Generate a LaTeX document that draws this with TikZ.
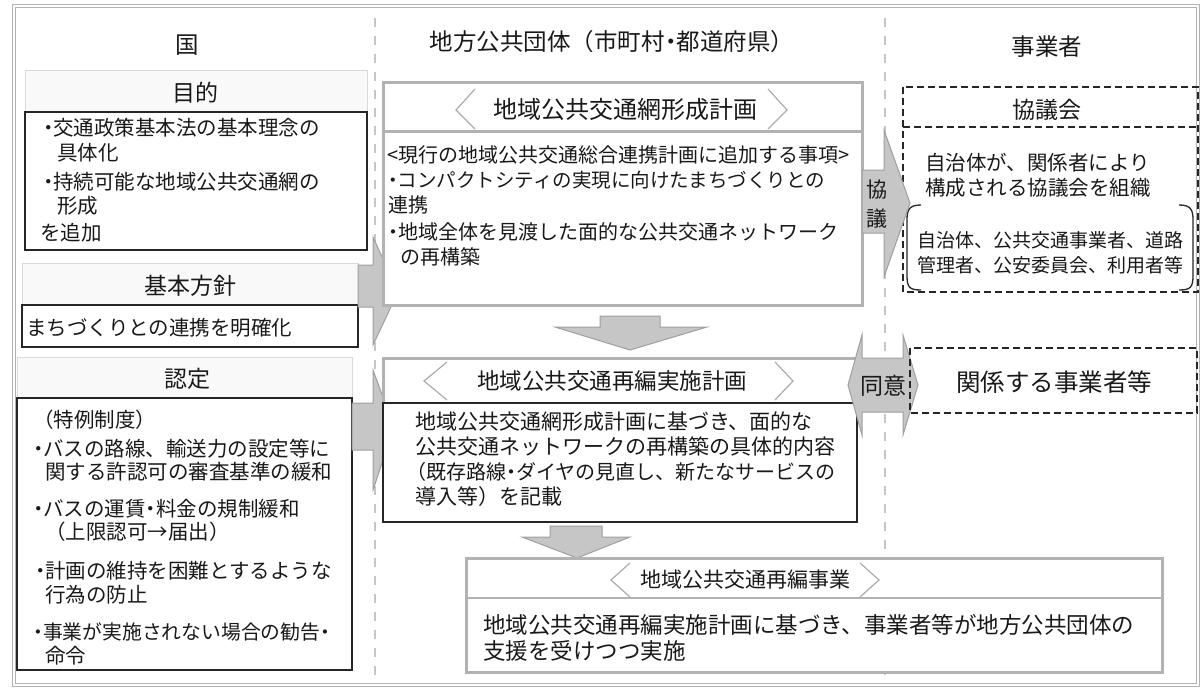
\documentclass[tikz,border=0pt]{standalone}
\usepackage{fontspec}
\setmainfont{Noto Sans CJK JP}
\newfontfamily\pp{Noto Sans CJK JP}[RawFeature=+palt]
\newcommand{\nd}{{\pp ・}}
\newcommand{\fb}{\fontsize{20.5}{25}\selectfont}
\newcommand{\fh}{\fontsize{23}{27}\selectfont}
\newcommand{\ft}{\fontsize{23.5}{28}\selectfont}
\begin{document}
\begin{tikzpicture}[x=1pt,y=-1pt,
  body/.style={anchor=west, inner sep=0pt, font=\fb, text=black!90},
  ttl/.style={inner sep=0pt, font=\ft, text=black!90},
  lbl/.style={inner sep=0pt, font=\fh, text=black!90},
  blk/.style={fill=gray!45, draw=gray!75, line width=1pt},
  gframe/.style={draw=gray!60, line width=3pt, fill=white},
  hdr/.style={fill=gray!5, draw=gray!30, line width=0.6pt},
  cbox/.style={draw=black!85, line width=1.3pt, fill=white},
  dbox/.style={draw=black!85, dash pattern=on 7pt off 4pt, line width=1.6pt},
  chev/.style={draw=gray!65, line width=1.2pt},
  sepline/.style={draw=gray!45, line width=2.5pt, dash pattern=on 9pt off 9pt}]
\useasboundingbox (0,0) rectangle (1203,693);
\fill[white] (0,0) rectangle (1203,693);
% outer frame
\draw[gray!60, line width=1.2pt, double=white, double distance=1.5pt] (14,6) rectangle (1198,685);
% column separators
\draw[sepline] (375,18) -- (375,680);
\draw[sepline] (885,18) -- (885,680);
% column titles
\node[ttl] (kuni) at (187,45) {国};
\node[ttl] (chiho) at (612,42) {地方公共団体（市町村{\pp ・}都道府県）};
\node[ttl] (jigyosha) at (1047,47) {事業者};

% ---------- left column ----------
\path[hdr] (25,70) rectangle (367,112);
\node[lbl] (mokuteki) at (195,93) {目的};
\path[cbox] (25,112) rectangle (367,250);
\node[body] (m1) at (43,128) {\nd 交通政策基本法の基本理念の};
\node[body] (m2) at (57,153) {具体化};
\node[body] (m3) at (43,182) {\nd 持続可能な地域公共交通網の};
\node[body] (m4) at (57,206) {形成};
\node[body] (m5) at (40,233) {を追加};

\path[hdr] (22,263) rectangle (358,305);
\node[lbl] (kihon) at (190,286) {基本方針};
\path[cbox] (22,305) rectangle (358,347);
\node[body] (k1) at (26,328) {まちづくりとの連携を明確化};

\path[hdr] (17,357) rectangle (352,398);
\node[lbl] (nintei) at (187,379) {認定};
\path[cbox] (17,398) rectangle (352,670);
\node[body] (n1) at (33,420) {（特例制度）};
\node[body] (n2) at (33,449) {\nd バスの路線、輸送力の設定等に};
\node[body] (n3) at (45,472) {関する許認可の審査基準の緩和};
\node[body] (n4) at (33,509) {\nd バスの運賃{\pp ・}料金の規制緩和};
\node[body] (n5) at (45,532) {（上限認可→届出）};
\node[body] (n6) at (35,571) {\nd 計画の維持を困難とするような};
\node[body] (n7) at (45,595) {行為の防止};
\node[body, font=\fontsize{19.8}{24}\selectfont] (n8) at (33,632) {\nd 事業が実施されない場合の勧告\nd};
\node[body] (n9) at (45,656) {命令};

% arrows from left column
\draw[blk] (358,265) -- (373,265) -- (373,237) -- (398,292) -- (373,345) -- (373,307) -- (358,307) -- cycle;
\draw[blk] (352,403) -- (373,403) -- (373,370) -- (394,427) -- (373,490) -- (373,450) -- (352,450) -- cycle;

% ---------- middle column ----------
\path[gframe] (383,83) rectangle (862,305);
\draw[gray!60, line width=3pt] (383,131) -- (862,131);
\node[lbl, font=\fontsize{24}{28}\selectfont] (keisei) at (625,109) {地域公共交通網形成計画};
\draw[chev] (475,89) -- (456,110) -- (475,129);
\draw[chev] (768,89) -- (787,110) -- (768,129);
\node[body, font=\fontsize{20}{25}\selectfont] (f1) at (387,155) {<現行の地域公共交通総合連携計画に追加する事項>};
\node[body, font=\fontsize{19.5}{24}\selectfont] (f2) at (388,180) {\nd コンパクトシティの実現に向けたまちづくりとの};
\node[body, font=\fontsize{20}{25}\selectfont] (f3) at (388,205) {連携};
\node[body, font=\fontsize{20}{25}\selectfont] (f4) at (388,232) {\nd 地域全体を見渡した面的な公共交通ネットワーク};
\node[body, font=\fontsize{20}{25}\selectfont] (f5) at (400,257) {の再構築};

% down arrow 1
\draw[blk] (600,316) -- (660,316) -- (660,327) -- (707,327) -- (630,350) -- (555,327) -- (600,327) -- cycle;

\path[draw=gray!60, line width=3pt, fill=white] (383,358) rectangle (860,403);
\node[lbl, font=\fontsize{22.5}{27}\selectfont] (saihen) at (612,381) {地域公共交通再編実施計画};
\draw[chev] (447,362) -- (424,381) -- (447,400);
\draw[chev] (775,362) -- (793,381) -- (775,400);
\path[cbox] (383,403) rectangle (857,522);
\node[body, font=\fontsize{21}{25}\selectfont] (s1) at (415,422) {地域公共交通網形成計画に基づき、面的な};
\node[body, font=\fontsize{21}{25}\selectfont] (s2) at (415,447) {公共交通ネットワークの再構築の具体的内容};
\node[body, font=\fontsize{20}{25}\selectfont] (s3) at (406,472) {（既存路線{\pp ・}ダイヤの見直し、新たなサービスの};
\node[body, font=\fontsize{21}{25}\selectfont] (s4) at (415,497) {導入等）を記載};

% down arrow 2
\draw[blk] (550,526) -- (602,526) -- (602,537) -- (630,537) -- (577,558) -- (522,537) -- (550,537) -- cycle;

\path[gframe] (466,558) rectangle (1162,672);
\draw[gray!60, line width=2pt] (466,598) -- (1162,598);
\node[lbl, font=\fontsize{21}{25}\selectfont] (jigyo) at (745,580) {地域公共交通再編事業};
\draw[chev] (630,563) -- (611,580) -- (630,597);
\draw[chev] (860,563) -- (879,580) -- (860,597);
\node[body, font=\fontsize{22.5}{27}\selectfont] (j1) at (483,625) {地域公共交通再編実施計画に基づき、事業者等が地方公共団体の};
\node[body, font=\fontsize{22.5}{27}\selectfont] (j2) at (483,651) {支援を受けつつ実施};

% ---------- right column ----------
\draw[dbox] (903,87) rectangle (1198,292);
\draw[dbox] (903,127) -- (1198,127);
\node[lbl] (kyogikai) at (1047,110) {協議会};
\node[body] (r1) at (925,163) {自治体が、関係者により};
\node[body] (r2) at (925,188) {構成される協議会を組織};
\draw[black!85, line width=1.3pt] (921,205) .. controls (909,205) and (907,210) .. (907,220) -- (907,275) .. controls (907,287) and (909,290) .. (921,290);
\draw[black!85, line width=1.3pt] (1179,205) .. controls (1191,205) and (1193,210) .. (1193,220) -- (1193,275) .. controls (1193,287) and (1191,290) .. (1179,290);
\node[body, font=\fontsize{19}{24}\selectfont] (r3) at (917,240) {自治体、公共交通事業者、道路};
\node[body, font=\fontsize{19}{24}\selectfont] (r4) at (917,265) {管理者、公安委員会、利用者等};

% 協議 arrow
\draw[blk] (862,170) -- (884,170) -- (884,130) -- (910,203) -- (884,277) -- (884,233) -- (862,233) -- cycle;
\node[lbl, align=center, font=\fontsize{21}{29}\selectfont] (kyogi) at (877,204) {協\\議};

% 同意 arrow
\draw[blk] (848,385) -- (862,335) -- (862,358) -- (903,358) -- (903,335) -- (918,385) -- (903,435) -- (903,412) -- (862,412) -- (862,435) -- cycle;
\node[lbl, font=\fontsize{23}{27}\selectfont] (doi) at (883,386) {同意};

\draw[dbox] (910,348) rectangle (1197,413);
\node[ttl, font=\fontsize{24.5}{29}\selectfont] (kankei) at (1054,382) {関係する事業者等};
\end{tikzpicture}
\end{document}
